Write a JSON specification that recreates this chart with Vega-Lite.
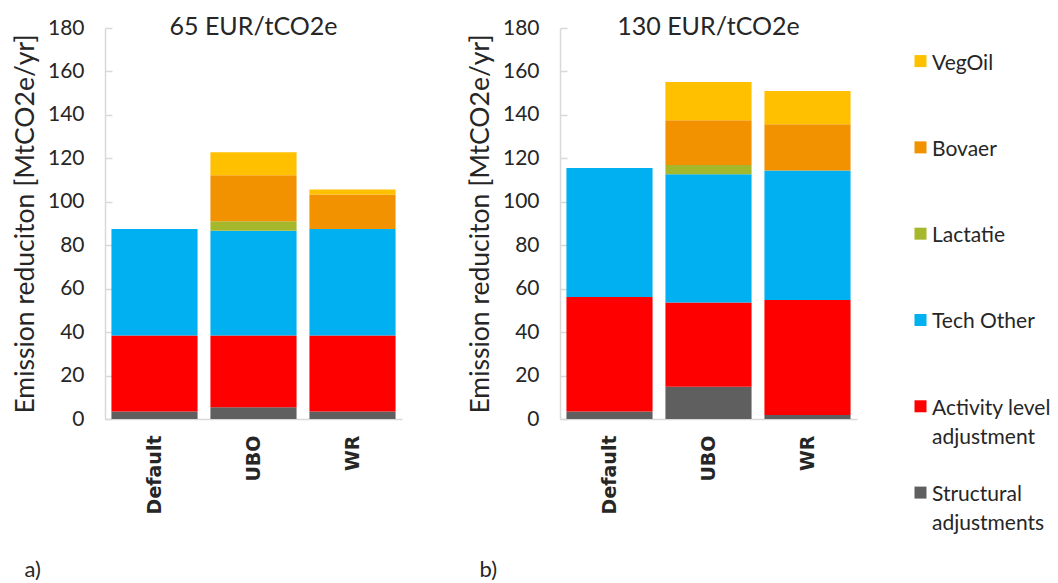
{
  "$schema": "https://vega.github.io/schema/vega-lite/v6.json",
  "padding": {"left": 12, "top": 15, "right": 5, "bottom": 0},
  "background": "white",
  "config": {
    "view": {"stroke": null},
    "font": "Lato",
    "concat": {"spacing": 65},
    "style": {"guide-label": {"lineHeight": 29}},
    "axisY": {
      "grid": false,
      "domainColor": "#d9d9d9",
      "domainWidth": 1.5,
      "tickColor": "#d9d9d9",
      "tickWidth": 1.5,
      "tickSize": -7,
      "labelPadding": 28,
      "labelFont": "Lato",
      "labelFontSize": 21,
      "labelColor": "#262626",
      "titleFont": "Lato",
      "titleFontSize": 26.5,
      "titleFontWeight": "normal",
      "titleColor": "#262626",
      "titlePadding": 8
    },
    "axisX": {
      "domainColor": "#d9d9d9",
      "domainWidth": 1.5,
      "ticks": false,
      "labelAngle": -90,
      "labelAlign": "right",
      "labelBaseline": "middle",
      "labelPadding": 16,
      "labelFont": "DejaVu Sans",
      "labelFontSize": 19,
      "labelFontWeight": "bold",
      "labelColor": "#262626",
      "titleFont": "Lato",
      "titleFontSize": 22,
      "titleFontWeight": "normal",
      "titleColor": "#262626",
      "titleAnchor": "start",
      "titleAlign": "left",
      "titleBaseline": "alphabetic",
      "titleX": -81,
      "titleY": 157
    },
    "title": {"font": "Lato", "fontSize": 25, "fontWeight": "normal", "color": "#262626", "baseline": "alphabetic", "offset": -23, "anchor": "middle"}
  },
  "datasets": {
    "d": [
      {"panel": "65", "scenario": "Default", "category": "Structural adjustments", "value": 3.5},
      {"panel": "65", "scenario": "Default", "category": "Activity level adjustment", "value": 34.9},
      {"panel": "65", "scenario": "Default", "category": "Tech Other", "value": 49.1},
      {"panel": "65", "scenario": "UBO", "category": "Structural adjustments", "value": 5.4},
      {"panel": "65", "scenario": "UBO", "category": "Activity level adjustment", "value": 33.0},
      {"panel": "65", "scenario": "UBO", "category": "Tech Other", "value": 48.3},
      {"panel": "65", "scenario": "UBO", "category": "Lactatie", "value": 4.3},
      {"panel": "65", "scenario": "UBO", "category": "Bovaer", "value": 21.2},
      {"panel": "65", "scenario": "UBO", "category": "VegOil", "value": 10.6},
      {"panel": "65", "scenario": "WR", "category": "Structural adjustments", "value": 3.5},
      {"panel": "65", "scenario": "WR", "category": "Activity level adjustment", "value": 34.9},
      {"panel": "65", "scenario": "WR", "category": "Tech Other", "value": 49.1},
      {"panel": "65", "scenario": "WR", "category": "Bovaer", "value": 15.8},
      {"panel": "65", "scenario": "WR", "category": "VegOil", "value": 2.3},
      {"panel": "130", "scenario": "Default", "category": "Structural adjustments", "value": 3.5},
      {"panel": "130", "scenario": "Default", "category": "Activity level adjustment", "value": 52.7},
      {"panel": "130", "scenario": "Default", "category": "Tech Other", "value": 59.4},
      {"panel": "130", "scenario": "UBO", "category": "Structural adjustments", "value": 14.8},
      {"panel": "130", "scenario": "UBO", "category": "Activity level adjustment", "value": 38.8},
      {"panel": "130", "scenario": "UBO", "category": "Tech Other", "value": 59.1},
      {"panel": "130", "scenario": "UBO", "category": "Lactatie", "value": 4.2},
      {"panel": "130", "scenario": "UBO", "category": "Bovaer", "value": 20.6},
      {"panel": "130", "scenario": "UBO", "category": "VegOil", "value": 17.6},
      {"panel": "130", "scenario": "WR", "category": "Structural adjustments", "value": 1.8},
      {"panel": "130", "scenario": "WR", "category": "Activity level adjustment", "value": 53.0},
      {"panel": "130", "scenario": "WR", "category": "Tech Other", "value": 59.6},
      {"panel": "130", "scenario": "WR", "category": "Bovaer", "value": 21.3},
      {"panel": "130", "scenario": "WR", "category": "VegOil", "value": 15.3}
    ]
  },
  "data": {"name": "d"},
  "transform": [
    {"calculate": "indexof(['Structural adjustments', 'Activity level adjustment', 'Tech Other', 'Lactatie', 'Bovaer', 'VegOil'], datum.category)", "as": "stack_order"}
  ],
  "hconcat": [
    {
      "title": "65 EUR/tCO2e",
      "width": 297,
      "height": 391,
      "transform": [{"filter": "datum.panel == '65'"}],
      "mark": {"type": "bar"},
      "encoding": {
        "x": {"field": "scenario", "type": "nominal", "sort": ["Default", "UBO", "WR"], "scale": {"paddingInner": 0.13, "paddingOuter": 0.065}, "axis": {"title": "a)"}},
        "y": {"field": "value", "type": "quantitative", "stack": "zero", "scale": {"domain": [0, 180], "nice": false}, "axis": {"title": "Emission reduciton [MtCO2e/yr]", "values": [0, 20, 40, 60, 80, 100, 120, 140, 160, 180]}},
        "order": {"field": "stack_order", "type": "quantitative", "sort": "ascending"},
        "color": {
          "field": "category", "type": "nominal",
          "scale": {"domain": ["Structural adjustments", "Activity level adjustment", "Tech Other", "Lactatie", "Bovaer", "VegOil"], "range": ["#5f5f5f", "#ff0000", "#00b0f0", "#a5b72b", "#f39200", "#ffc000"]},
          "legend": {
            "orient": "none", "legendX": 805, "legendY": 14, "title": null,
            "values": ["VegOil", "Bovaer", "Lactatie", "Tech Other", "Activity level adjustment", "Structural adjustments"],
            "labelExpr": "datum.label == 'Activity level adjustment' ? ['Activity level', 'adjustment'] : datum.label == 'Structural adjustments' ? ['Structural', 'adjustments'] : [datum.label, '']",
            "labelFont": "Lato", "labelFontSize": 21, "labelColor": "#262626", "labelBaseline": "top", "labelLimit": 250, "labelOffset": 1,
            "symbolType": "M-1,0.43L1,0.43L1,2.43L-1,2.43Z", "symbolSize": 144, "symbolStrokeWidth": 0, "symbolOpacity": 1,
            "rowPadding": 25.3
          }
        }
      }
    },
    {
      "title": "130 EUR/tCO2e",
      "width": 297,
      "height": 391,
      "transform": [{"filter": "datum.panel == '130'"}],
      "mark": {"type": "bar"},
      "encoding": {
        "x": {"field": "scenario", "type": "nominal", "sort": ["Default", "UBO", "WR"], "scale": {"paddingInner": 0.13, "paddingOuter": 0.065}, "axis": {"title": "b)"}},
        "y": {"field": "value", "type": "quantitative", "stack": "zero", "scale": {"domain": [0, 180], "nice": false}, "axis": {"title": "Emission reduciton [MtCO2e/yr]", "values": [0, 20, 40, 60, 80, 100, 120, 140, 160, 180]}},
        "order": {"field": "stack_order", "type": "quantitative", "sort": "ascending"},
        "color": {"field": "category", "type": "nominal"}
      }
    }
  ],
  "resolve": {"scale": {"color": "shared", "y": "independent", "x": "independent"}}
}
